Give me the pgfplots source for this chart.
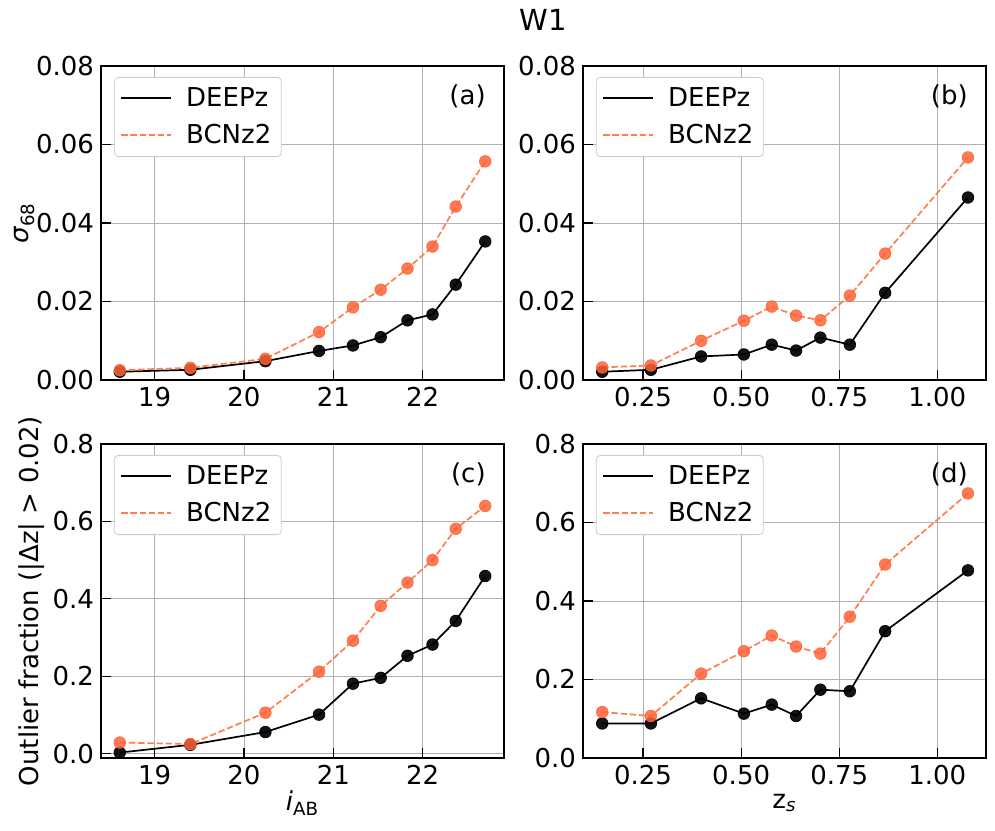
\documentclass[border=0pt]{standalone}
\usepackage{fontspec}
\setmainfont{DejaVu Sans}
\usepackage{pgfplots}
\pgfplotsset{compat=1.18}
\usepackage{pgfplotstable}
\usepgfplotslibrary{groupplots}

\definecolor{coral}{RGB}{255,127,80}
\definecolor{dotorange}{RGB}{255,99,55}
\newcommand\fs{\fontsize{13}{15.6}\selectfont}

% magnitude bins: sigma68
\pgfplotstableread{
x     deep   bcn
18.61 0.0021 0.0025
19.40 0.0026 0.0031
20.24 0.0048 0.0054
20.84 0.0074 0.0122
21.22 0.0088 0.0185
21.53 0.0109 0.0230
21.83 0.0152 0.0284
22.11 0.0167 0.0340
22.37 0.0243 0.0442
22.70 0.0353 0.0557
}\tabA

% redshift bins: sigma68
\pgfplotstableread{
x     deep   bcn
0.146 0.0021 0.0032
0.270 0.0026 0.0037
0.398 0.0060 0.0100
0.507 0.0065 0.0151
0.578 0.0090 0.0187
0.640 0.0075 0.0164
0.702 0.0108 0.0152
0.777 0.0090 0.0215
0.867 0.0222 0.0322
1.078 0.0465 0.0567
}\tabB

% magnitude bins: outlier fraction
\pgfplotstableread{
x     deep  bcn
18.61 0.003 0.029
19.40 0.023 0.025
20.24 0.056 0.106
20.84 0.101 0.212
21.22 0.181 0.292
21.53 0.196 0.382
21.83 0.253 0.442
22.11 0.282 0.500
22.37 0.343 0.581
22.70 0.459 0.640
}\tabC

% redshift bins: outlier fraction
\pgfplotstableread{
x     deep  bcn
0.146 0.088 0.117
0.270 0.088 0.107
0.398 0.152 0.215
0.507 0.113 0.272
0.578 0.136 0.312
0.640 0.107 0.284
0.702 0.174 0.266
0.777 0.170 0.360
0.867 0.323 0.493
1.078 0.478 0.674
}\tabD

\pgfplotsset{
  deepline/.style={black, line width=0.85pt,
    legend image code/.code={\draw[black, line width=1pt] (0pt,0pt) -- (25pt,0pt); \path (30pt,0pt);}},
  deepdots/.style={only marks, mark=*, mark size=2.9pt, draw=black, fill=black, opacity=0.92, forget plot},
  bcnline/.style={coral, line width=0.85pt, dash pattern=on 3.2pt off 1.4pt,
    legend image code/.code={\draw[coral, line width=1pt, dash pattern=on 3.2pt off 1.4pt] (0pt,0pt) -- (25pt,0pt); \path (30pt,0pt);}},
  bcndots/.style={only marks, mark=*, mark size=2.9pt, draw=dotorange, fill=dotorange, opacity=0.85, forget plot},
}

\newcommand\panel[1]{%
  \addplot[deepline] table[x=x,y=deep]{#1}; \addlegendentry{DEEPz}
  \addplot[deepdots] table[x=x,y=deep]{#1};
  \addplot[bcnline] table[x=x,y=bcn]{#1}; \addlegendentry{BCNz2}
  \addplot[bcndots] table[x=x,y=bcn]{#1};
}

\begin{document}
\begin{tikzpicture}[font=\fs]
\begin{groupplot}[
  group style={group size=2 by 2, horizontal sep=39.5pt, vertical sep=32pt},
  width=201.5pt, height=157pt, scale only axis,
  every tick label/.append style={font=\fs},
  label style={font=\fs},
  axis line style={line width=1.25pt},
  tick align=inside, tick pos=left,
  major tick length=5pt,
  tick style={black, line width=0.6pt},
  grid=major, major grid style={line width=0.4pt, black!30},
  scaled ticks=false,
  /pgf/number format/assume math mode=true,
  legend style={at={(0.032,0.965)}, anchor=north west, draw=black!20,
    rounded corners=2pt, fill=white,
    font=\fs, inner xsep=3pt, inner ysep=3pt, row sep=3.5pt},
  legend cell align=left,
]
\nextgroupplot[xmin=18.40, xmax=22.91, ymin=0, ymax=0.08,
  xtick={19,20,21,22}, ytick={0,0.02,0.04,0.06,0.08},
  yticklabel style={/pgf/number format/.cd, fixed, fixed zerofill, precision=2},
  ylabel={{\itshape σ}\textsubscript{68}},
  ylabel style={at={(rel axis cs:-0.19,0.5)}, anchor=center}]
\panel{\tabA}
\node[anchor=east] at (rel axis cs:0.972,0.902) {(a)};

\nextgroupplot[xmin=0.097, xmax=1.124, ymin=0, ymax=0.08,
  xtick={0.25,0.5,0.75,1}, ytick={0,0.02,0.04,0.06,0.08},
  xticklabel style={/pgf/number format/.cd, fixed, fixed zerofill, precision=2},
  yticklabel style={/pgf/number format/.cd, fixed, fixed zerofill, precision=2}]
\panel{\tabB}
\node[anchor=east] at (rel axis cs:0.972,0.902) {(b)};

\nextgroupplot[xmin=18.40, xmax=22.91, ymin=-0.011, ymax=0.8,
  xtick={19,20,21,22}, ytick={0,0.2,0.4,0.6,0.8},
  yticklabel style={/pgf/number format/.cd, fixed, fixed zerofill, precision=1},
  ylabel={Outlier fraction (|Δz| > 0.02)},
  ylabel style={at={(rel axis cs:-0.171,0.5)}, anchor=center},
  xlabel={{\itshape i}\textsubscript{AB}},
  xlabel style={at={(rel axis cs:0.5,-0.143)}, anchor=center}]
\panel{\tabC}
\node[anchor=east] at (rel axis cs:0.972,0.902) {(c)};

\nextgroupplot[xmin=0.097, xmax=1.124, ymin=0, ymax=0.8,
  xtick={0.25,0.5,0.75,1}, ytick={0,0.2,0.4,0.6,0.8},
  xticklabel style={/pgf/number format/.cd, fixed, fixed zerofill, precision=2},
  yticklabel style={/pgf/number format/.cd, fixed, fixed zerofill, precision=1},
  xlabel={z\textsubscript{\itshape s}},
  xlabel style={at={(rel axis cs:0.5,-0.143)}, anchor=center}]
\panel{\tabD}
\node[anchor=east] at (rel axis cs:0.972,0.902) {(d)};
\end{groupplot}
\path (group c1r1.north west) -- (group c2r1.north east)
  node[midway, yshift=23pt, font=\fontsize{14.5}{17}\selectfont] {W1};
\path (group c1r2.south west) ++(-50.5pt,-36.5pt) coordinate (bl);
\path (group c2r1.north east) ++(4.5pt,33pt) coordinate (tr);
\path (bl) rectangle (tr);
\end{tikzpicture}
\end{document}
